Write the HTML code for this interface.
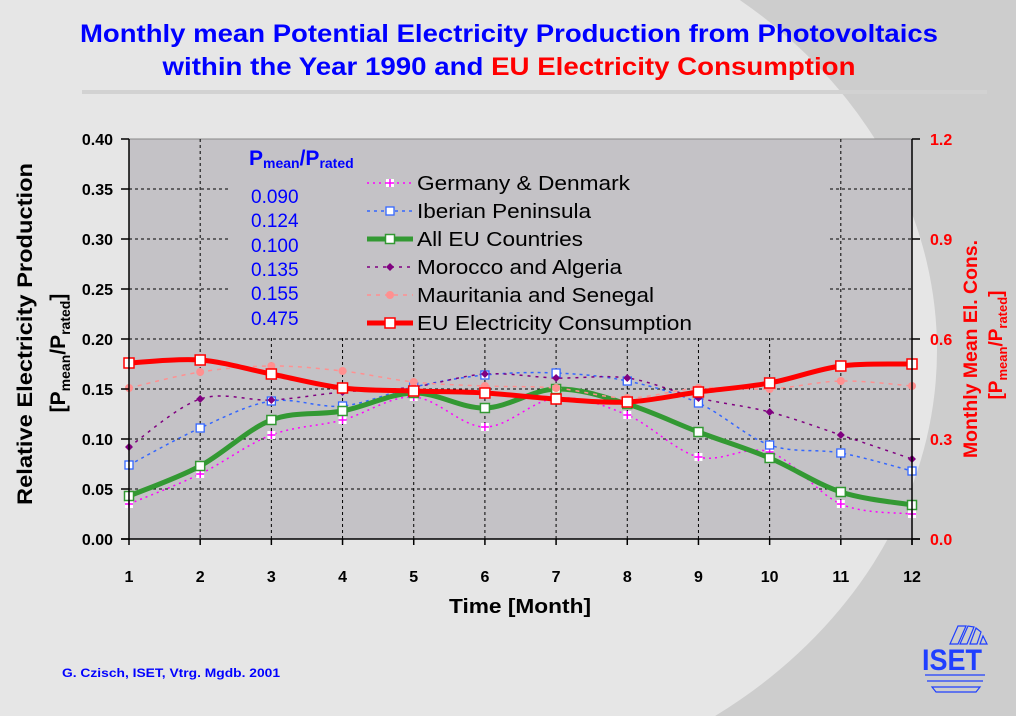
<!DOCTYPE html>
<html><head><meta charset="utf-8"><style>
html,body{margin:0;padding:0;background:#e6e6e6;overflow:hidden;width:1016px;height:716px;}
svg{display:block;font-family:"Liberation Sans",Arial,sans-serif;}
</style></head><body>
<svg id="s" width="1016" height="716" viewBox="0 0 1016 716" xmlns="http://www.w3.org/2000/svg">
<rect width="1016" height="716" fill="#e6e6e6"/>
<rect x="400" y="0" width="616" height="716" fill="#cdcdcd"/>
<ellipse cx="400" cy="350" rx="537" ry="452" fill="#e6e6e6"/>
<text x="509" y="42" text-anchor="middle" font-size="25" font-weight="bold" fill="#0000ff" textLength="858" lengthAdjust="spacingAndGlyphs">Monthly mean Potential Electricity Production from Photovoltaics</text>
<text x="509" y="75" text-anchor="middle" font-size="25" font-weight="bold" fill="#0000ff" textLength="693" lengthAdjust="spacingAndGlyphs">within the Year 1990 and <tspan fill="#ff0000">EU Electricity Consumption</tspan></text>
<rect x="82" y="90" width="905" height="4" fill="#d2d2d2"/>
<rect x="129" y="139" width="783" height="400" fill="#c4c2c6"/>
<line x1="129" y1="139" x2="912" y2="139" stroke="#888" stroke-width="1"/>
<g id="grid" stroke="#000" stroke-width="1" stroke-dasharray="3,3"></g>
<g id="series"></g>
<g stroke="#000" stroke-width="1.5">
<line x1="129" y1="139" x2="129" y2="540"/>
<line x1="912" y1="139" x2="912" y2="545"/>
<line x1="121" y1="539" x2="920" y2="539"/>
</g>
<g id="ticks" stroke="#000" stroke-width="1.5"></g>
<g id="labels" font-size="16" font-weight="bold"></g>
<text x="520" y="613" text-anchor="middle" font-size="20" font-weight="bold" textLength="142" lengthAdjust="spacingAndGlyphs">Time [Month]</text>
<text transform="translate(32,334) rotate(-90)" text-anchor="middle" font-size="21" font-weight="bold" textLength="342" lengthAdjust="spacingAndGlyphs">Relative Electricity Production</text>
<text transform="translate(65,353) rotate(-90)" text-anchor="middle" font-size="21" font-weight="bold">[P<tspan font-size="14" dy="5">mean</tspan><tspan dy="-5">/P</tspan><tspan font-size="14" dy="5">rated</tspan><tspan dy="-5">]</tspan></text>
<text transform="translate(977,349) rotate(-90)" text-anchor="middle" font-size="19" font-weight="bold" fill="#ff0000" textLength="218" lengthAdjust="spacingAndGlyphs">Monthly Mean El. Cons.</text>
<text transform="translate(1002,345) rotate(-90)" text-anchor="middle" font-size="19" font-weight="bold" fill="#ff0000">[P<tspan font-size="13" dy="5">mean</tspan><tspan dy="-5">/P</tspan><tspan font-size="13" dy="5">rated</tspan><tspan dy="-5">]</tspan></text>
<text x="249" y="165" font-size="21" font-weight="bold" fill="#0000ff">P<tspan font-size="14" dy="3">mean</tspan><tspan dy="-3">/P</tspan><tspan font-size="14" dy="3">rated</tspan></text>
<g font-size="19" fill="#0000ff">
<text x="251" y="203">0.090</text><text x="251" y="227">0.124</text><text x="251" y="252">0.100</text>
<text x="251" y="276">0.135</text><text x="251" y="300">0.155</text><text x="251" y="325">0.475</text>
</g>
<g id="legend" font-size="20"></g>
<text x="62" y="677" font-size="12" font-weight="bold" fill="#0000ff" textLength="218" lengthAdjust="spacingAndGlyphs">G. Czisch, ISET, Vtrg. Mgdb. 2001</text>
<g fill="none" stroke="#1f3fff" stroke-width="1.2">
<path d="M950,644 L958,626 L966,626 L958,644 Z M960,644 L968,626 L974,627 L967,644 Z M970,644 L976,628 L981,632 L977,644 Z M980,644 L983,636 L987,644 Z"/>
<path d="M925,675 L985,675 M927,681 L983,681 M932,687 L980,687 L976,692 L936,692 Z"/>
</g>
<text x="952" y="670" text-anchor="middle" font-size="30" font-weight="bold" fill="#1f3fff" textLength="60" lengthAdjust="spacingAndGlyphs">ISET</text>
</svg>
<script>
var NS="http://www.w3.org/2000/svg";
function el(p,t,a,txt){var e=document.createElementNS(NS,t);for(var k in a)e.setAttribute(k,a[k]);if(txt!==undefined)e.textContent=txt;p.appendChild(e);return e;}
function X(m){return 129+(m-1)*(783/11);}
var g=document.getElementById('grid');
for(var m=2;m<=11;m++){var xx=X(m);var ty=(xx>228&&xx<830)?338:139;el(g,'line',{x1:xx,y1:ty,x2:xx,y2:539});}
for(var i=1;i<8;i++){var yy=539-i*50;
 if(yy<338){el(g,'line',{x1:129,y1:yy,x2:228,y2:yy});el(g,'line',{x1:830,y1:yy,x2:912,y2:yy});}
 else el(g,'line',{x1:129,y1:yy,x2:912,y2:yy});}
var t=document.getElementById('ticks'),L=document.getElementById('labels');
for(var i=0;i<=8;i++){var yy=539-i*50;el(t,'line',{x1:121,y1:yy,x2:129,y2:yy});
 el(L,'text',{x:113,y:yy+6,'text-anchor':'end'},(i*0.05).toFixed(2));}
for(var i=0;i<=4;i++){var yy=539-i*100;el(t,'line',{x1:912,y1:yy,x2:920,y2:yy});
 el(L,'text',{x:930,y:yy+6,fill:'#ff0000'},(i*0.3).toFixed(1));}
for(var m=1;m<=12;m++){el(t,'line',{x1:X(m),y1:539,x2:X(m),y2:545});
 el(L,'text',{x:X(m),y:582,'text-anchor':'middle'},m);}
var S=[
 {c:'#ff00ff',w:1.5,d:'2,4',mk:'plus',y:[504,474,435,420,397,427,398,415,457,452,504,514]},
 {c:'#3366ff',w:1.5,d:'3,4',mk:'sq',y:[465,428,401,406,387,375,373,381,403,445,453,471]},
 {c:'#339933',w:5,d:'',mk:'sqw',y:[496,466,420,411,393,408,389,404,432,458,492,505]},
 {c:'#800080',w:1.5,d:'3,5',mk:'dia',y:[447,399,400,392,387,374,378,378,398,412,435,459]},
 {c:'#ff9090',w:1.5,d:'4,5',mk:'dot',y:[388,372,366,371,382,386,388,398,388,389,381,386]},
 {c:'#ff0000',w:5,d:'',mk:'sqr',y:[363,360,374,388,391,393,399,402,392,383,366,364]}
];
var sg=document.getElementById('series');
function path(ys){var p=[];for(var i=0;i<12;i++)p.push([X(i+1),ys[i]]);var d='M'+p[0][0]+','+p[0][1];
 for(var i=0;i<11;i++){var p0=p[Math.max(i-1,0)],p1=p[i],p2=p[i+1],p3=p[Math.min(i+2,11)];
 var c1=[p1[0]+(p2[0]-p0[0])/6,p1[1]+(p2[1]-p0[1])/6],c2=[p2[0]-(p3[0]-p1[0])/6,p2[1]-(p3[1]-p1[1])/6];
 d+=' C'+c1+' '+c2+' '+p2;}return d;}
function marker(p,s,x,y){
 if(s.mk=='plus'){el(p,'rect',{x:x-4,y:y-4,width:8,height:8,fill:'#fff'});el(p,'path',{d:'M'+(x-4)+','+y+'h8M'+x+','+(y-4)+'v8',stroke:s.c,'stroke-width':1.5});}
 else if(s.mk=='sq')el(p,'rect',{x:x-4,y:y-4,width:8,height:8,fill:'#fff',stroke:s.c,'stroke-width':1.3});
 else if(s.mk=='sqw')el(p,'rect',{x:x-4.5,y:y-4.5,width:9,height:9,fill:'#fff',stroke:s.c,'stroke-width':1.5});
 else if(s.mk=='sqr')el(p,'rect',{x:x-5,y:y-5,width:10,height:10,fill:'#fff',stroke:s.c,'stroke-width':1.5});
 else if(s.mk=='dia')el(p,'path',{d:'M'+x+','+(y-4)+'l4,4l-4,4l-4,-4z',fill:s.c});
 else el(p,'circle',{cx:x,cy:y,r:4,fill:s.c});}
S.forEach(function(s){var a={d:path(s.y),fill:'none',stroke:s.c,'stroke-width':s.w};if(s.d)a['stroke-dasharray']=s.d;el(sg,'path',a);});
S.forEach(function(s){for(var i=0;i<12;i++)marker(sg,s,X(i+1),s.y[i]);});
var lg=document.getElementById('legend');
var names=['Germany & Denmark','Iberian Peninsula','All EU Countries','Morocco and Algeria','Mauritania and Senegal','EU Electricity Consumption'];
var lens=[213,174,166,205,237,275];
S.forEach(function(s,i){var yy=183+i*28;var a={x1:367,y1:yy,x2:413,y2:yy,stroke:s.c,'stroke-width':s.w};if(s.d)a['stroke-dasharray']=s.d;el(lg,'line',a);
 marker(lg,s,390,yy);el(lg,'text',{x:417,y:yy+7,textLength:lens[i],lengthAdjust:'spacingAndGlyphs'},names[i]);});
</script>
</body></html>
